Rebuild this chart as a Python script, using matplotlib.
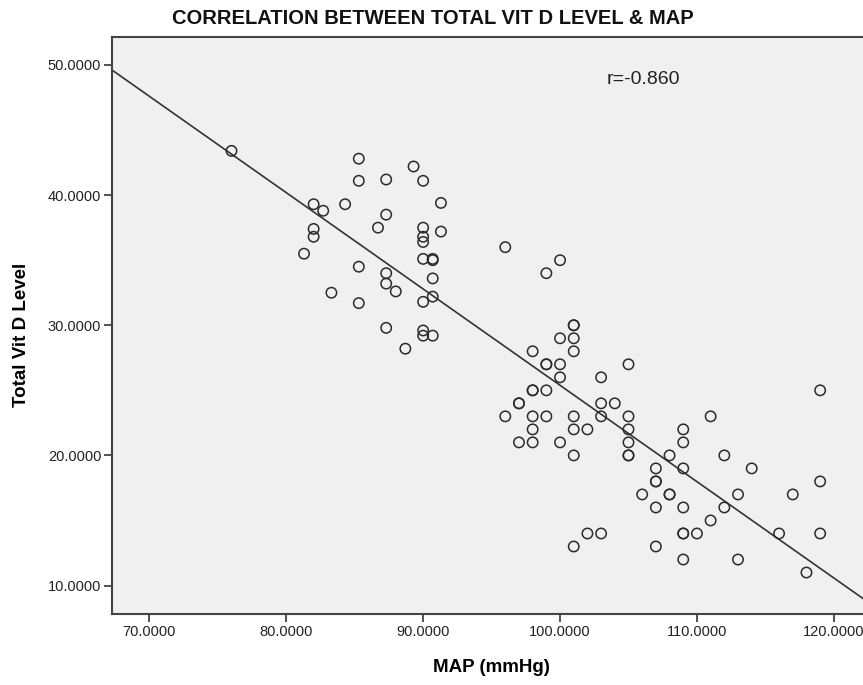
import numpy as np
import matplotlib
matplotlib.use("Agg")
import matplotlib.pyplot as plt
from matplotlib.ticker import FormatStrFormatter, FixedLocator

plt.rcParams['font.family'] = ['Liberation Sans', 'DejaVu Sans']

title = "CORRELATION BETWEEN TOTAL VIT D LEVEL & MAP"
x_label = "MAP (mmHg)"
y_label = "Total Vit D Level"
r_text = "r=-0.860"
x_ticks = [70, 80, 90, 100, 110, 120]
y_ticks = [10, 20, 30, 40, 50]

map_low = [76.0, 85.3, 85.3, 87.3, 89.3, 90.0, 91.3, 82.0, 82.7, 84.3,
           87.3, 86.7, 82.0, 82.0, 90.0, 90.0, 90.0, 91.3, 81.3, 90.0,
           90.7, 90.7, 85.3, 90.7, 87.3, 87.3, 88.0, 83.3, 90.7, 90.0,
           85.3, 87.3, 90.0, 90.0, 90.7, 88.7]
vitd_low = [43.4, 42.8, 41.1, 41.2, 42.2, 41.1, 39.4, 39.3, 38.8, 39.3,
            38.5, 37.5, 37.4, 36.8, 37.5, 36.8, 36.4, 37.2, 35.5, 35.1,
            35.1, 35.0, 34.5, 33.6, 34.0, 33.2, 32.6, 32.5, 32.2, 31.8,
            31.7, 29.8, 29.6, 29.2, 29.2, 28.2]

map_high = [96, 100, 99, 101, 101, 100, 101, 98, 101,
            99, 99, 100, 105,
            100, 103,
            98, 98, 99, 119,
            97, 97, 103, 104,
            96, 98, 99, 101, 103, 105, 111,
            98, 101, 102, 105, 109,
            97, 98, 100, 105, 109,
            101, 105, 105, 108, 112,
            107, 109, 114,
            107, 107, 119,
            106, 108, 108, 113, 117,
            107, 109, 112,
            111,
            102, 103, 109, 109, 110, 116, 119,
            101, 107,
            109, 113,
            118]
vitd_high = [36, 35, 34, 30, 30, 29, 29, 28, 28,
             27, 27, 27, 27,
             26, 26,
             25, 25, 25, 25,
             24, 24, 24, 24,
             23, 23, 23, 23, 23, 23, 23,
             22, 22, 22, 22, 22,
             21, 21, 21, 21, 21,
             20, 20, 20, 20, 20,
             19, 19, 19,
             18, 18, 18,
             17, 17, 17, 17, 17,
             16, 16, 16,
             15,
             14, 14, 14, 14, 14, 14, 14,
             13, 13,
             12, 12,
             11]

map_all = np.array(map_low + map_high, dtype=float)
vitd_all = np.array(vitd_low + vitd_high, dtype=float)

W, H = 863, 685
fig = plt.figure(figsize=(W / 100, H / 100), dpi=100)
fig.patch.set_facecolor('white')

left_px, right_px, top_px, bottom_px = 111.7, 863.0, 37.0, 614.3
ax = fig.add_axes([left_px / W, 1 - bottom_px / H,
                   (right_px - left_px) / W, (bottom_px - top_px) / H])
ax.set_facecolor('#f0f0f0')

xlim = (67.25, 122.13)
ylim = (7.79, 52.15)

slope, intercept = np.polyfit(map_all, vitd_all, 1)
xs = np.array(xlim)
ax.plot(xs, slope * xs + intercept, color='#333333', lw=1.2, zorder=2)

ax.scatter(map_all, vitd_all, s=56, facecolors='none', edgecolors='#2b2b2b',
           linewidths=1.1, zorder=3)

ax.set_xlim(*xlim)
ax.set_ylim(*ylim)
ax.xaxis.set_major_locator(FixedLocator(x_ticks))
ax.yaxis.set_major_locator(FixedLocator(y_ticks))
ax.xaxis.set_major_formatter(FormatStrFormatter('%.4f'))
ax.yaxis.set_major_formatter(FormatStrFormatter('%.4f'))
ax.tick_params(axis='both', direction='out', length=6, width=1.2,
               color='#333333', labelsize=10.5, labelcolor='#222222', pad=1.5)

for side in ['left', 'bottom', 'top']:
    ax.spines[side].set_color('#444444')
    ax.spines[side].set_linewidth(1.5)
ax.spines['right'].set_visible(False)

ax.set_xlabel(x_label, fontsize=13.5, fontweight='bold')
ax.set_ylabel(y_label, fontsize=13.5, fontweight='bold')
ax.xaxis.set_label_coords(491 / W, 1 - 668 / H, transform=fig.transFigure)
ax.yaxis.set_label_coords(22 / W, 1 - 335 / H, transform=fig.transFigure)
ax.xaxis.label.set_va('center')
ax.yaxis.label.set_va('center')

fig.text(433 / W, 1 - 19 / H, title, ha='center', va='center',
         fontsize=14.5, fontweight='bold', color='#111111')
ax.text(606.7 / W, 1 - 79 / H, r_text, transform=fig.transFigure,
        ha='left', va='center', fontsize=14, color='#222222')

fig.savefig('out.png', dpi=100, facecolor='white')
